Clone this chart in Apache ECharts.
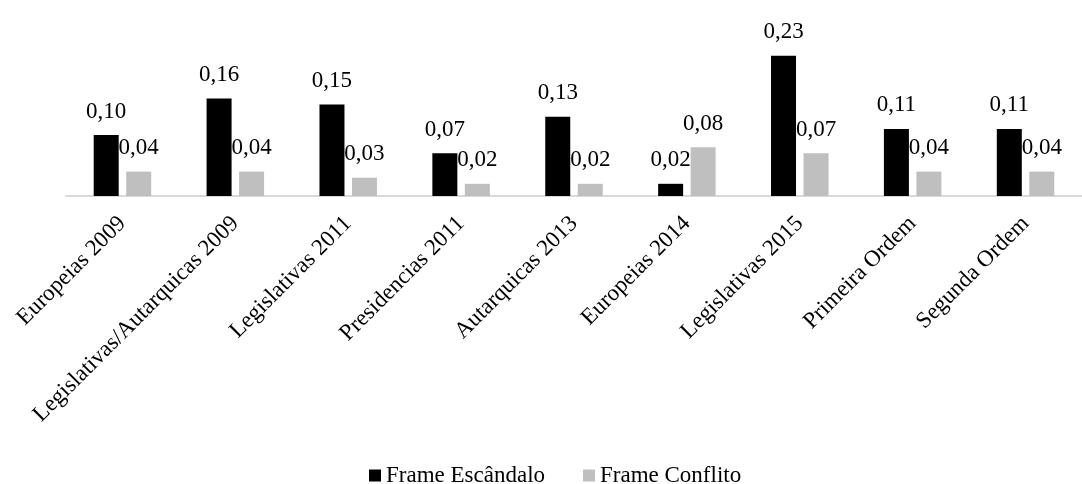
<!DOCTYPE html>
<html>
<head>
<meta charset="utf-8">
<script src="https://cdn.jsdelivr.net/npm/echarts@6/dist/echarts.min.js"></script>
<style>
  html, body { margin: 0; padding: 0; background: #ffffff; }
  #chart { width: 1082px; height: 484px; }
</style>
</head>
<body>
<div id="chart"></div>
<script>
// Election campaigns compared
const categories = [
  'Europeias 2009',
  'Legislativas/Autarquicas 2009',
  'Legislativas 2011',
  'Presidencias 2011',
  'Autarquicas 2013',
  'Europeias 2014',
  'Legislativas 2015',
  'Primeira Ordem',
  'Segunda Ordem'
];

// Mean presence of each news frame
const frameEscandalo = [0.10, 0.16, 0.15, 0.07, 0.13, 0.02, 0.23, 0.11, 0.11];
const frameConflito  = [0.04, 0.04, 0.03, 0.02, 0.02, 0.08, 0.07, 0.04, 0.04];

const seriesNames = ['Frame Escândalo', 'Frame Conflito'];

const FONT = "'Liberation Serif', 'Times New Roman', serif";
const fmt = p => p.value.toFixed(2).replace('.', ',');

const valueLabel = {
  show: true,
  position: 'top',
  distance: 12,
  formatter: fmt,
  color: '#000000',
  fontFamily: FONT,
  fontSize: 23
};

const chart = echarts.init(document.getElementById('chart'), null, { renderer: 'canvas' });

chart.setOption({
  animation: false,
  backgroundColor: '#ffffff',
  grid: { left: 66, top: 43.5, width: 1026, height: 152.5 },
  legend: {
    left: 364,
    top: 459,
    itemGap: 38,
    itemWidth: 12,
    itemHeight: 12,
    icon: 'rect',
    textStyle: { fontFamily: FONT, fontSize: 23, color: '#000000' },
    data: seriesNames
  },
  xAxis: {
    type: 'category',
    data: categories,
    axisLine: { show: true, lineStyle: { color: '#d9d9d9', width: 2 } },
    axisTick: { show: false },
    axisLabel: {
      interval: 0,
      rotate: 45,
      margin: 24,
      fontFamily: FONT,
      fontSize: 23,
      color: '#000000'
    }
  },
  yAxis: {
    type: 'value',
    min: 0,
    max: 0.25,
    show: false,
    splitLine: { show: false }
  },
  series: [
    {
      name: seriesNames[0],
      type: 'bar',
      data: frameEscandalo,
      barWidth: 25,
      barGap: '30%',
      itemStyle: { color: '#000000' },
      label: valueLabel
    },
    {
      name: seriesNames[1],
      type: 'bar',
      data: frameConflito,
      barWidth: 25,
      barGap: '30%',
      itemStyle: { color: '#bfbfbf' },
      label: valueLabel
    }
  ]
});
</script>
</body>
</html>
